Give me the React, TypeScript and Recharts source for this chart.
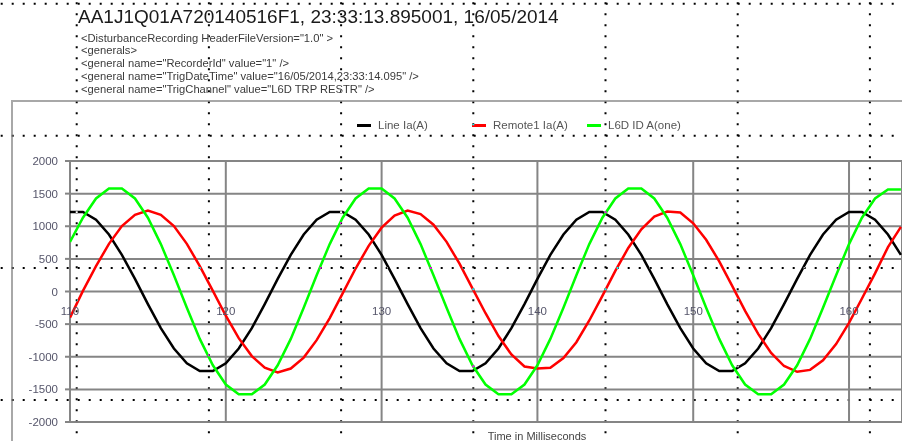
import React from "react";
import { LineChart, Line, XAxis, YAxis, CartesianGrid, Legend } from "recharts";

// sample times (ms), one sample every ~0.83 ms
const timeMs = [
  110, 110.83, 111.67, 112.5, 113.33, 114.17, 115, 115.83, 116.67, 117.5,
  118.33, 119.17, 120, 120.83, 121.67, 122.5, 123.33, 124.17, 125, 125.83,
  126.67, 127.5, 128.33, 129.17, 130, 130.83, 131.67, 132.5, 133.33, 134.17,
  135, 135.83, 136.67, 137.5, 138.33, 139.17, 140, 140.83, 141.67, 142.5,
  143.33, 144.17, 145, 145.83, 146.67, 147.5, 148.33, 149.17, 150, 150.83,
  151.67, 152.5, 153.33, 154.17, 155, 155.83, 156.67, 157.5, 158.33, 159.17,
  160, 160.83, 161.67, 162.5, 163.33,
];

const lineIa = [
  1220, 1220, 1100, 873, 561, 193, -193, -561, -873, -1100,
  -1220, -1220, -1100, -873, -561, -193, 193, 561, 873, 1100,
  1220, 1220, 1100, 873, 561, 193, -193, -561, -873, -1100,
  -1220, -1220, -1100, -873, -561, -193, 193, 561, 873, 1100,
  1220, 1220, 1100, 873, 561, 193, -193, -561, -873, -1100,
  -1220, -1220, -1100, -873, -561, -193, 193, 561, 873, 1100,
  1220, 1220, 1100, 873, 561,
];

const remote1Ia = [
  -400, 10, 389, 730, 1002, 1175, 1240, 1175, 1002, 730,
  389, 10, -371, -715, -990, -1169, -1240, -1181, -1013, -746,
  -407, -29, 352, 699, 978, 1163, 1240, 1186, 1024, 761,
  426, 49, -333, -683, -966, -1150, -1180, -1170, -1020, -777,
  -444, -68, 315, 667, 954, 1149, 1225, 1210, 1045, 792,
  462, 87, -296, -650, -942, -1142, -1231, -1201, -1055, -806,
  -480, -107, 277, 680, 990,
];

const l6dIdA = [
  760, 1131, 1426, 1580, 1580, 1426, 1131, 726, 250, -250,
  -726, -1131, -1426, -1575, -1575, -1426, -1131, -726, -250, 250,
  726, 1131, 1426, 1580, 1580, 1426, 1131, 726, 250, -250,
  -726, -1131, -1426, -1575, -1575, -1426, -1131, -726, -250, 250,
  726, 1131, 1426, 1580, 1580, 1426, 1131, 726, 250, -250,
  -726, -1131, -1426, -1575, -1575, -1426, -1131, -726, -250, 250,
  726, 1131, 1426, 1565, 1565,
];

const seriesNames = ["Line Ia(A)", "Remote1 Ia(A)", "L6D ID A(one)"];
const seriesColors = ["#000000", "#ff0000", "#00ff00"];
const xTicks = [110, 120, 130, 140, 150, 160];
const yTicks = [-2000, -1500, -1000, -500, 0, 500, 1000, 1500, 2000];

const title = "AA1J1Q01A720140516F1, 23:33:13.895001, 16/05/2014";
const headerLines = [
  '<DisturbanceRecording HeaderFileVersion="1.0" >',
  "<generals>",
  '<general name="RecorderId" value="1" />',
  '<general name="TrigDateTime" value="16/05/2014,23:33:14.095" />',
  '<general name="TrigChannel" value="L6D TRP RESTR" />',
];
const xAxisTitle = "Time in Milliseconds";

const data = timeMs.map((t, i) => ({
  t,
  line: lineIa[i],
  remote: remote1Ia[i],
  l6d: l6dIdA[i],
}));

const W = 902;
const H = 441;
const PLOT_TOP = 161;
const PLOT_BOTTOM = 19;
const ZERO_Y = PLOT_TOP + (H - PLOT_TOP - PLOT_BOTTOM) / 2;
const FONT = '"Liberation Sans", Arial, sans-serif';
const LABEL_COLOR = "#55556a";
const GRID = "#858585";

// x tick labels sit just under the zero line, not at the bottom
const XTick = (props: any) => {
  const { x, payload } = props;
  return (
    <text x={x} y={ZERO_Y + 23} textAnchor="middle" fontSize={11.5} fill={LABEL_COLOR} fontFamily={FONT}>
      {payload.value}
    </text>
  );
};

const LegendContent = () => (
  <div style={{ display: "flex", fontFamily: FONT }}>
    {seriesNames.map((name, i) => (
      <div key={name} style={{ width: 115, display: "flex", alignItems: "center", height: 14 }}>
        <span style={{ display: "inline-block", width: 14, height: 3, background: seriesColors[i], marginRight: 7 }} />
        <span style={{ fontSize: 11.5, color: "#555" }}>{name}</span>
      </div>
    ))}
  </div>
);

// layout guide dots drawn over the screenshot
const dotCols = [76.7, 208.9, 341.1, 473.3, 605.5, 737.7, 869.9];
const dotRows = [3.7, 135.8, 267.9, 400];

export default function App() {
  return (
    <div
      style={{
        position: "fixed",
        left: 0,
        top: 0,
        width: W,
        height: H,
        overflow: "hidden",
        background: "#fff",
        fontFamily: FONT,
      }}
    >
      <div
        style={{
          position: "absolute",
          left: 11,
          top: 100,
          width: W,
          height: H,
          borderTop: "2px solid #a8a8a8",
          borderLeft: "2px solid #a8a8a8",
        }}
      />
      <div style={{ position: "absolute", left: 0, top: 0 }}>
        <LineChart width={W} height={H} data={data} margin={{ top: PLOT_TOP, right: 0, bottom: 0, left: 10 }}>
          <CartesianGrid stroke={GRID} strokeWidth={2} />
          <XAxis
            dataKey="t"
            type="number"
            domain={[110, 163.4]}
            allowDataOverflow
            ticks={xTicks}
            interval={0}
            height={PLOT_BOTTOM}
            axisLine={false}
            tickLine={false}
            tick={(p: any) => <XTick {...p} />}
          />
          <YAxis
            type="number"
            domain={[-2000, 2000]}
            ticks={yTicks}
            interval={0}
            width={60}
            axisLine={false}
            tickSize={5}
            tickMargin={7}
            tickLine={{ stroke: GRID, strokeWidth: 2 }}
            tick={{ fontSize: 11.5, fill: LABEL_COLOR, fontFamily: FONT }}
          />
          <Legend
            verticalAlign="middle"
            align="center"
            layout="horizontal"
            content={<LegendContent />}
            wrapperStyle={{ top: 118, left: 357, width: 350, height: 14 }}
          />
          <Line type="linear" dataKey="line" name={seriesNames[0]} stroke={seriesColors[0]} strokeWidth={2.5} dot={false} isAnimationActive={false} />
          <Line type="linear" dataKey="remote" name={seriesNames[1]} stroke={seriesColors[1]} strokeWidth={2.5} dot={false} isAnimationActive={false} />
          <Line type="linear" dataKey="l6d" name={seriesNames[2]} stroke={seriesColors[2]} strokeWidth={2.5} dot={false} isAnimationActive={false} />
        </LineChart>
      </div>
      <svg width={W} height={H} style={{ position: "absolute", left: 0, top: 0 }}>
        <text x={78} y={23} fontSize={19} fill="#1a1a1a" fontFamily={FONT}>
          {title}
        </text>
        {headerLines.map((s, i) => (
          <text key={i} x={81} y={41.5 + 12.8 * i} fontSize={11.2} fill="#3a3a3a" fontFamily={FONT}>
            {s}
          </text>
        ))}
        <text x={537} y={440} fontSize={11} textAnchor="middle" fill="#444" fontFamily={FONT}>
          {xAxisTitle}
        </text>
      </svg>
      <svg width={W} height={H} style={{ position: "absolute", left: 0, top: 0, mixBlendMode: "difference", pointerEvents: "none" }}>
        {dotCols.map((x) => (
          <line key={"c" + x} x1={x} x2={x} y1={0} y2={H} stroke="#fff" strokeWidth={2} strokeDasharray="2 9" strokeDashoffset={-2.3} />
        ))}
        {dotRows.map((y) => (
          <line key={"r" + y} x1={0} x2={W} y1={y} y2={y} stroke="#fff" strokeWidth={2} strokeDasharray="2 9" strokeDashoffset={-0.7} />
        ))}
      </svg>
    </div>
  );
}
